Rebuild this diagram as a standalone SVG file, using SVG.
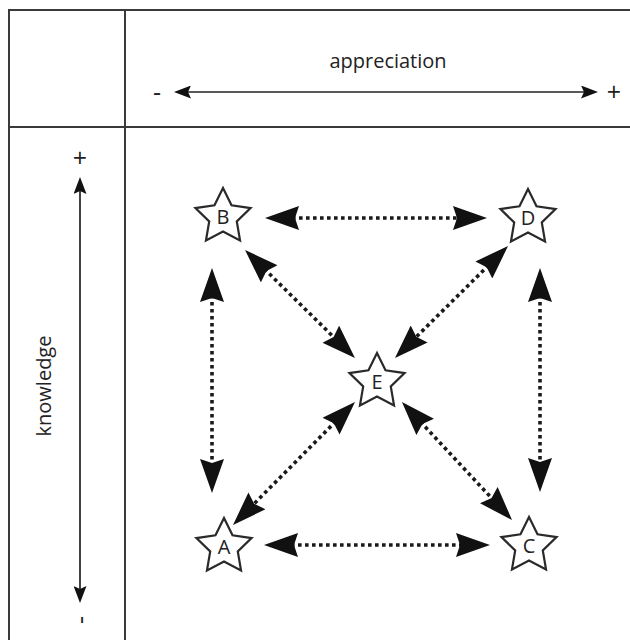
<svg xmlns="http://www.w3.org/2000/svg" xmlns:xlink="http://www.w3.org/1999/xlink" width="630" height="640" viewBox="0 0 630 640">
<style>
.grid{stroke:#3a3a3a;stroke-width:2;fill:none}
.axis{stroke:#222;stroke-width:1.7;fill:none}
.dot{stroke:#1a1a1a;stroke-width:3.6;stroke-dasharray:3.6 3.4;fill:none;marker-start:url(#big);marker-end:url(#big)}
.star{fill:#fff;stroke:#2a2a2a;stroke-width:2.2;stroke-linejoin:miter}
.lbl{font-family:"Open Sans","Liberation Sans",sans-serif;fill:#222}
.pm{font-family:"Open Sans","Liberation Sans",sans-serif;fill:#222;font-size:25px;text-anchor:middle}
.nl{font-family:"Open Sans","Liberation Sans",sans-serif;font-size:20px;fill:#222;text-anchor:middle}
</style>
<defs>
<marker id="big" viewBox="0 0 34 24" refX="14" refY="12" markerWidth="34" markerHeight="24" markerUnits="userSpaceOnUse" orient="auto-start-reverse">
<path d="M0,0 L34,12 L0,24 L4,12 Z" fill="#111"/>
</marker>
<marker id="small" viewBox="0 0 17 13" refX="14" refY="6.5" markerWidth="17" markerHeight="13" markerUnits="userSpaceOnUse" orient="auto-start-reverse">
<path d="M0,0 L17,6.5 L0,13 L3,6.5 Z" fill="#111"/>
</marker>
<path id="starshape" d="M0,-29 L8.52,-11.73 L27.58,-8.96 L13.79,4.48 L17.05,23.46 L0,14.5 L-17.05,23.46 L-13.79,4.48 L-27.58,-8.96 L-8.52,-11.73 Z"/>
</defs>
<rect width="630" height="640" fill="#fff"/>
<g id="table">
<line class="grid" x1="8" y1="10" x2="630" y2="10"/>
<line class="grid" x1="9" y1="10" x2="9" y2="640"/>
<line class="grid" x1="125" y1="10" x2="125" y2="640"/>
<line class="grid" x1="8" y1="127" x2="630" y2="127"/>
</g>
<g id="axis-appreciation">
<text class="lbl" x="388" y="68" font-size="20" text-anchor="middle">appreciation</text>
<line class="axis" x1="177" y1="92" x2="595" y2="92" marker-start="url(#small)" marker-end="url(#small)"/>
<text class="pm" x="157" y="101">-</text>
<text class="pm" x="614" y="101">+</text>
</g>
<g id="axis-knowledge">
<text class="lbl" transform="translate(51,386) rotate(-90)" font-size="20" text-anchor="middle">knowledge</text>
<line class="axis" x1="80" y1="180" x2="80" y2="600" marker-start="url(#small)" marker-end="url(#small)"/>
<text class="pm" x="80" y="167">+</text>
<text class="pm" transform="translate(89,620) rotate(-90)">-</text>
</g>
<g id="connectors">
<line class="dot" x1="285" y1="218" x2="467" y2="218"/>
<line class="dot" x1="284" y1="545" x2="470" y2="545"/>
<line class="dot" x1="212" y1="288" x2="212" y2="473"/>
<line class="dot" x1="540" y1="288" x2="540" y2="472"/>
<line class="dot" x1="259.3" y1="264" x2="340.7" y2="344"/>
<line class="dot" x1="493.8" y1="260.1" x2="409.2" y2="343.9"/>
<line class="dot" x1="340.9" y1="416.2" x2="247.1" y2="510.8"/>
<line class="dot" x1="415.6" y1="416.6" x2="498.4" y2="505.4"/>
</g>
<g id="node-B"><use xlink:href="#starshape" href="#starshape" class="star" x="223" y="217"/><text class="nl" x="223" y="224">B</text></g>
<g id="node-D"><use xlink:href="#starshape" href="#starshape" class="star" x="528" y="218"/><text class="nl" x="528" y="225">D</text></g>
<g id="node-E"><use xlink:href="#starshape" href="#starshape" class="star" x="377" y="382"/><text class="nl" x="377" y="389">E</text></g>
<g id="node-A"><use xlink:href="#starshape" href="#starshape" class="star" x="224" y="547"/><text class="nl" x="224" y="554">A</text></g>
<g id="node-C"><use xlink:href="#starshape" href="#starshape" class="star" x="529" y="546"/><text class="nl" x="529" y="553">C</text></g>
</svg>
